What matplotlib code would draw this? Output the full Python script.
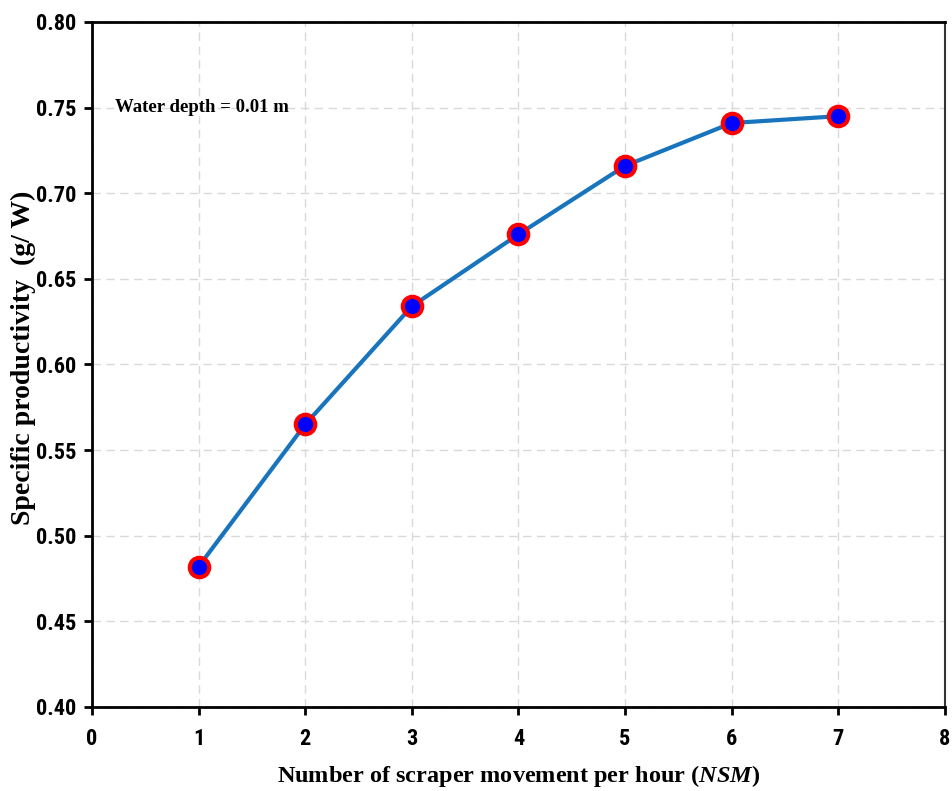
import matplotlib.pyplot as plt
from matplotlib import font_manager

nsm = [1, 2, 3, 4, 5, 6, 7]
productivity = [0.482, 0.565, 0.634, 0.676, 0.716, 0.741, 0.745]
x_ticks = [0, 1, 2, 3, 4, 5, 6, 7, 8]
y_ticks = [0.40, 0.45, 0.50, 0.55, 0.60, 0.65, 0.70, 0.75, 0.80]

names = {f.name for f in font_manager.fontManager.ttflist}
tick_font = "Roboto"
for cand in ["Liberation Sans Narrow", "DejaVu Sans Condensed", "Roboto Condensed"]:
    if cand in names:
        tick_font = cand
        break
serif = "Liberation Serif"

plt.rcParams["mathtext.fontset"] = "custom"
plt.rcParams["mathtext.it"] = "Liberation Serif:italic:bold"
plt.rcParams["mathtext.rm"] = "Liberation Serif:bold"

fig = plt.figure(figsize=(9.53, 7.91), dpi=100)
ax = fig.add_axes([0.0965, 0.1062, 0.8951, 0.866])

ax.plot(nsm, productivity, color="#1874bd", lw=3, marker="o", ms=14,
        mfc="#0000ff", mec="#ff0000", mew=3, zorder=3)

ax.set_xlim(0, 8)
ax.set_ylim(0.40, 0.80)
ax.set_xticks(x_ticks)
ax.set_yticks(y_ticks)
ax.set_xticklabels([str(v) for v in x_ticks])
ax.set_yticklabels([f"{v:.2f}" for v in y_ticks])
for lab in ax.get_xticklabels() + ax.get_yticklabels():
    lab.set_fontfamily(tick_font)
    lab.set_fontweight("bold")
    lab.set_fontsize(16)

ax.grid(True, color="#d9d9d9", ls=(0, (6, 4)), lw=1)
ax.set_axisbelow(True)
ax.tick_params(direction="out", length=6, width=2)
ax.tick_params(axis="x", pad=9)
ax.tick_params(axis="y", pad=5)
for side in ["left", "bottom", "top"]:
    ax.spines[side].set_linewidth(2)
    ax.spines[side].set_color("black")
ax.spines["right"].set_linewidth(1.5)
ax.spines["right"].set_color("#333333")

ax.set_xlabel("Number of scraper movement per hour ($\\mathit{NSM}$)",
              fontfamily=serif, fontweight="bold", fontsize=17.5)
ax.set_ylabel("Specific productivity  (g/ W)", fontfamily=serif,
              fontweight="bold", fontsize=20)
ax.xaxis.set_label_coords(0.5, -0.082)
ax.yaxis.set_label_coords(-0.066, 0.51)

ax.text(0.22, 0.75, "Water depth = 0.01 m", fontfamily=serif,
        fontweight="bold", fontsize=13.5, va="center", ha="left")

fig.savefig("out.png", dpi=100)
